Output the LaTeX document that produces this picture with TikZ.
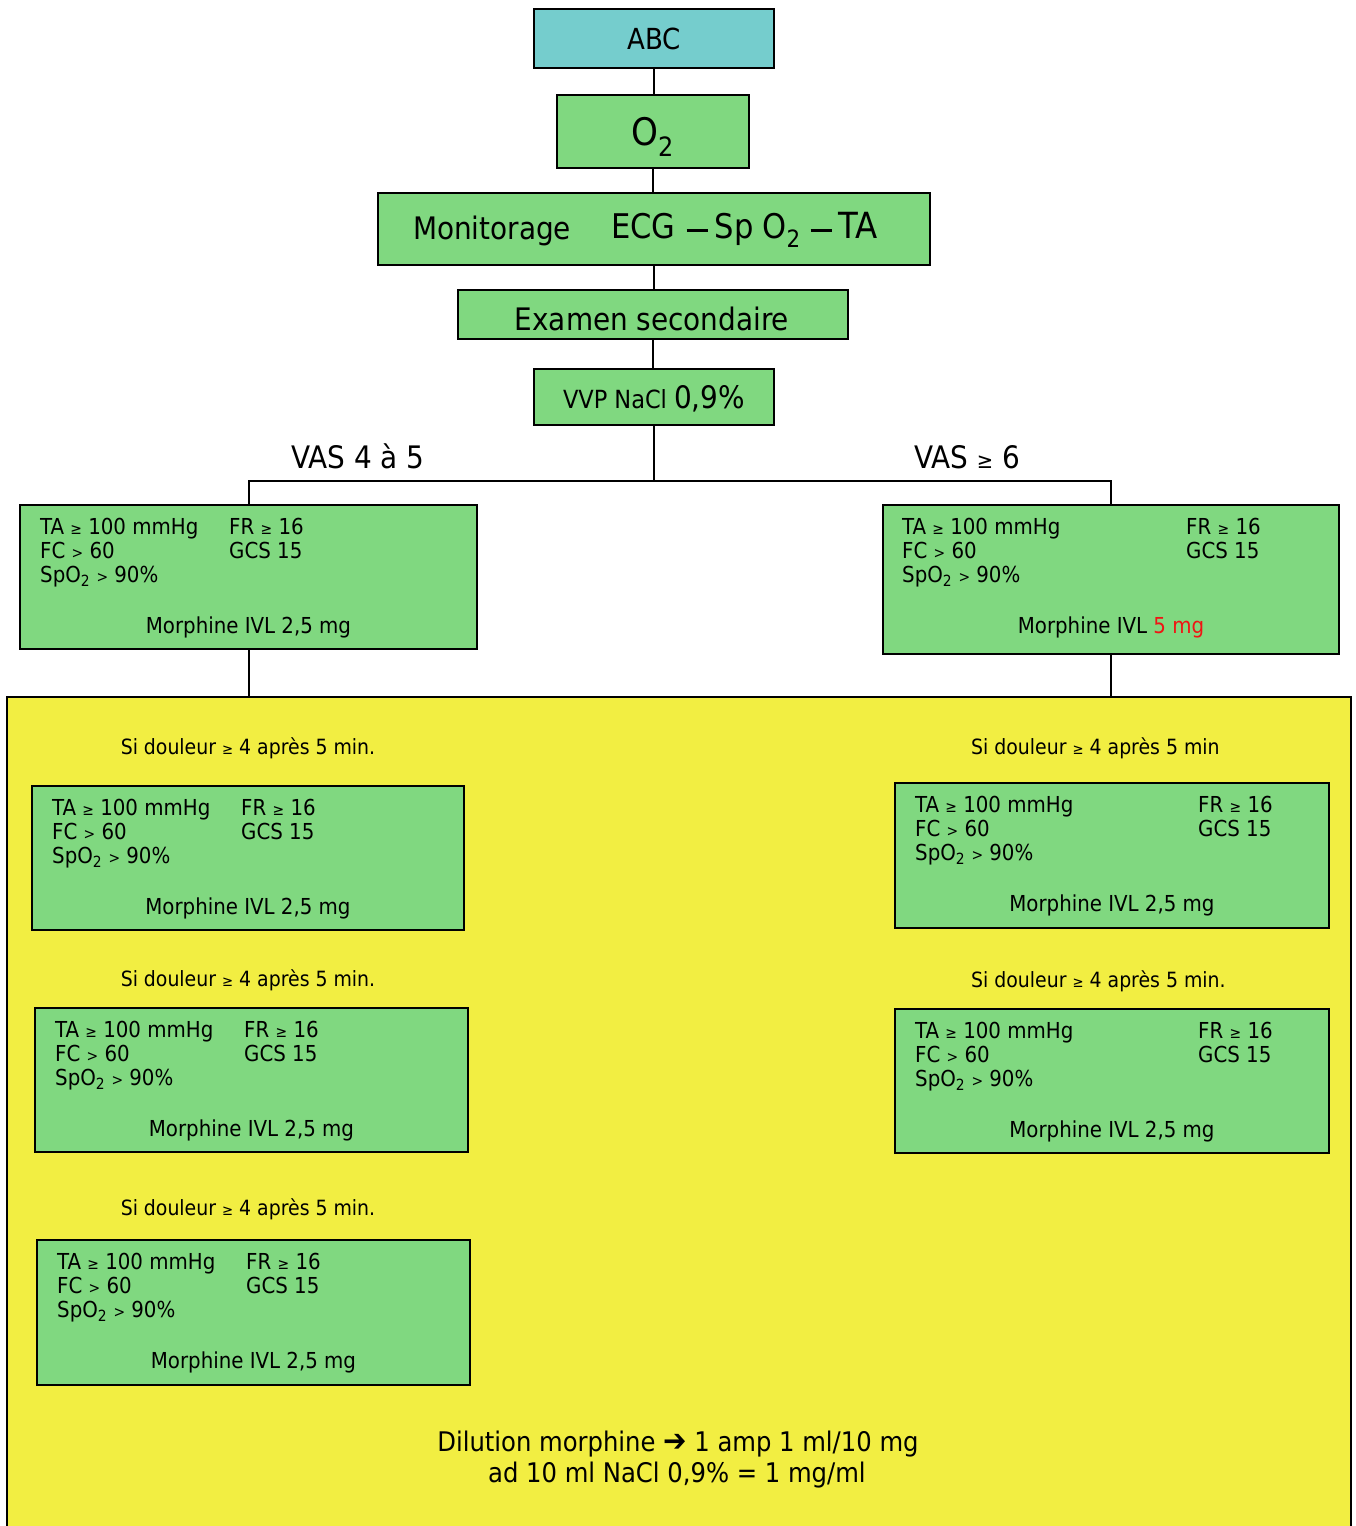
\documentclass[tikz,border=0pt]{standalone}
\usepackage{fontspec}
\setmainfont{DejaVu Sans Condensed}
\definecolor{grn}{RGB}{128,216,128}
\definecolor{tealbox}{RGB}{117,205,205}
\definecolor{ylw}{RGB}{242,238,66}
\definecolor{redtxt}{RGB}{240,20,20}
\newcommand\fsz[1]{\fontsize{#1bp}{#1bp}\selectfont}
\newcommand\sge{\scalebox{0.7}{≥}}
\newcommand\sgt{\scalebox{0.7}{>}}
\newcommand\bdash{\rule[6.5bp]{21bp}{2.6bp}}
\tikzset{
  gbox/.style={draw=black, line width=2bp, fill=grn, inner sep=0pt},
  ybox/.style={draw=black, line width=2bp, fill=ylw, inner sep=0pt},
  txt/.style={inner sep=0pt, font=\fsz{22}},
  sd/.style={inner sep=0pt, font=\fsz{21}},
  conn/.style={draw=black, line width=2bp},
}
\newcommand\vitbox[8]{%
  \node[gbox, anchor=north west, minimum width={(#4-#2)*1bp}, minimum height={(#5-#3)*1bp}] (#1) at (#2,#3) {};
  \node[txt, anchor=base west] (#1-ta) at ([shift={(#6,30)}]#1.north west) {TA \sge{} 100 mmHg};
  \node[txt, anchor=base west] (#1-fc) at ([shift={(#6,54)}]#1.north west) {FC \sgt{} 60};
  \node[txt, anchor=base west] (#1-sp) at ([shift={(#6,78)}]#1.north west) {SpO\textsubscript{2} \sgt{} 90\%};
  \node[txt, anchor=base west] (#1-fr) at ([shift={(#7,30)}]#1.north west) {FR \sge{} 16};
  \node[txt, anchor=base west] (#1-gc) at ([shift={(#7,54)}]#1.north west) {GCS 15};
  \node[txt, anchor=base] (#1-mo) at ([shift={(0,129)}]#1.north) {#8};
}
\begin{document}
\begin{tikzpicture}[x=1bp,y=-1bp]
\clip (0,0) rectangle (1356,1526);
\fill[white] (0,0) rectangle (1356,1526);

% yellow area
\node[ybox, anchor=north west, minimum width=1344bp, minimum height=880bp] (Y) at (6,696) {};

% top chain
\node[gbox, fill=tealbox, minimum width=240bp, minimum height=59bp, font=\fsz{29}] (abc) at (654,38.5) {ABC};
\node[gbox, minimum width=192bp, minimum height=72bp, font=\fsz{38}, text depth=0pt] (o2) at (652.5,131.5) {O\textsubscript{2}};
\node[gbox, minimum width=552bp, minimum height=72bp] (mon) at (654,229) {};
\node[txt, font=\fsz{31}, anchor=base west] (mon1) at (413,239) {Monitorage};
\node[txt, font=\fsz{34}, anchor=base west] (mon2) at (611,238) {ECG\hspace{11bp}\bdash\hspace{7bp}Sp\hspace{9bp}O\textsubscript{2}\hspace{10bp}\bdash\hspace{7bp}{\fsz{36}TA}};
\node[gbox, minimum width=390bp, minimum height=49bp] (exam) at (653,314.5) {};
\node[txt, font=\fsz{31}, anchor=base] (examt) at (652,330) {Examen secondaire};
\node[gbox, minimum width=240bp, minimum height=56bp] (vvp) at (654,397) {};
\node[txt, anchor=base] (vvpt) at (654,408) {\fsz{25}VVP NaCl \fsz{31}0,9\%};

\draw[conn] (abc.south) -- (abc.south |- o2.north);
\draw[conn] (o2.south) -- (o2.south |- mon.north);
\draw[conn] (mon.south) -- (mon.south |- exam.north);
\draw[conn] (exam.south) -- (exam.south |- vvp.north);

% branch labels
\node[txt, font=\fsz{31}, anchor=base] (vas1) at (358,468) {VAS 4 à 5};
\node[txt, font=\fsz{31}, anchor=base west] (vas2) at (914,468) {VAS \scalebox{0.7}{≥} 6};

% first level boxes
\vitbox{L1}{19}{504}{476}{648}{21}{210}{Morphine IVL 2,5 mg}
\vitbox{R1}{882}{504}{1338}{653}{20}{304}{Morphine IVL \textcolor{redtxt}{5 mg}}

\coordinate (j) at (654,481);
\draw[conn] (vvp.south) -- (j);
\draw[conn] (L1.north) |- (j) -| (R1.north);
\draw[conn] (L1.south) -- (L1.south |- Y.north);
\draw[conn] (R1.south) -- (R1.south |- Y.north);

% left column
\node[sd, anchor=base] (sdl1) at (248,754) {Si douleur \sge{} 4 après 5 min.};
\vitbox{L2}{31}{785}{463}{929}{21}{210}{Morphine IVL 2,5 mg}
\node[sd, anchor=base] (sdl2) at (248,986) {Si douleur \sge{} 4 après 5 min.};
\vitbox{L3}{34}{1007}{467}{1151}{21}{210}{Morphine IVL 2,5 mg}
\node[sd, anchor=base] (sdl3) at (248,1215) {Si douleur \sge{} 4 après 5 min.};
\vitbox{L4}{36}{1239}{469}{1384}{21}{210}{Morphine IVL 2,5 mg}

% right column
\node[sd, anchor=base west] (sdr1) at (971,754) {Si douleur \sge{} 4 après 5 min};
\vitbox{R2}{894}{782}{1328}{927}{21}{304}{Morphine IVL 2,5 mg}
\node[sd, anchor=base west] (sdr2) at (971,987) {Si douleur \sge{} 4 après 5 min.};
\vitbox{R3}{894}{1008}{1328}{1152}{21}{304}{Morphine IVL 2,5 mg}

% dilution note
\node[txt, font=\fsz{27}, anchor=base] (dil1) at (678,1451) {Dilution morphine \scalebox{1.15}{➔} 1 amp 1 ml/10 mg};
\node[txt, font=\fsz{27}, anchor=base] (dil2) at (677,1482) {ad 10 ml NaCl 0,9\% = 1 mg/ml};
\end{tikzpicture}
\end{document}
